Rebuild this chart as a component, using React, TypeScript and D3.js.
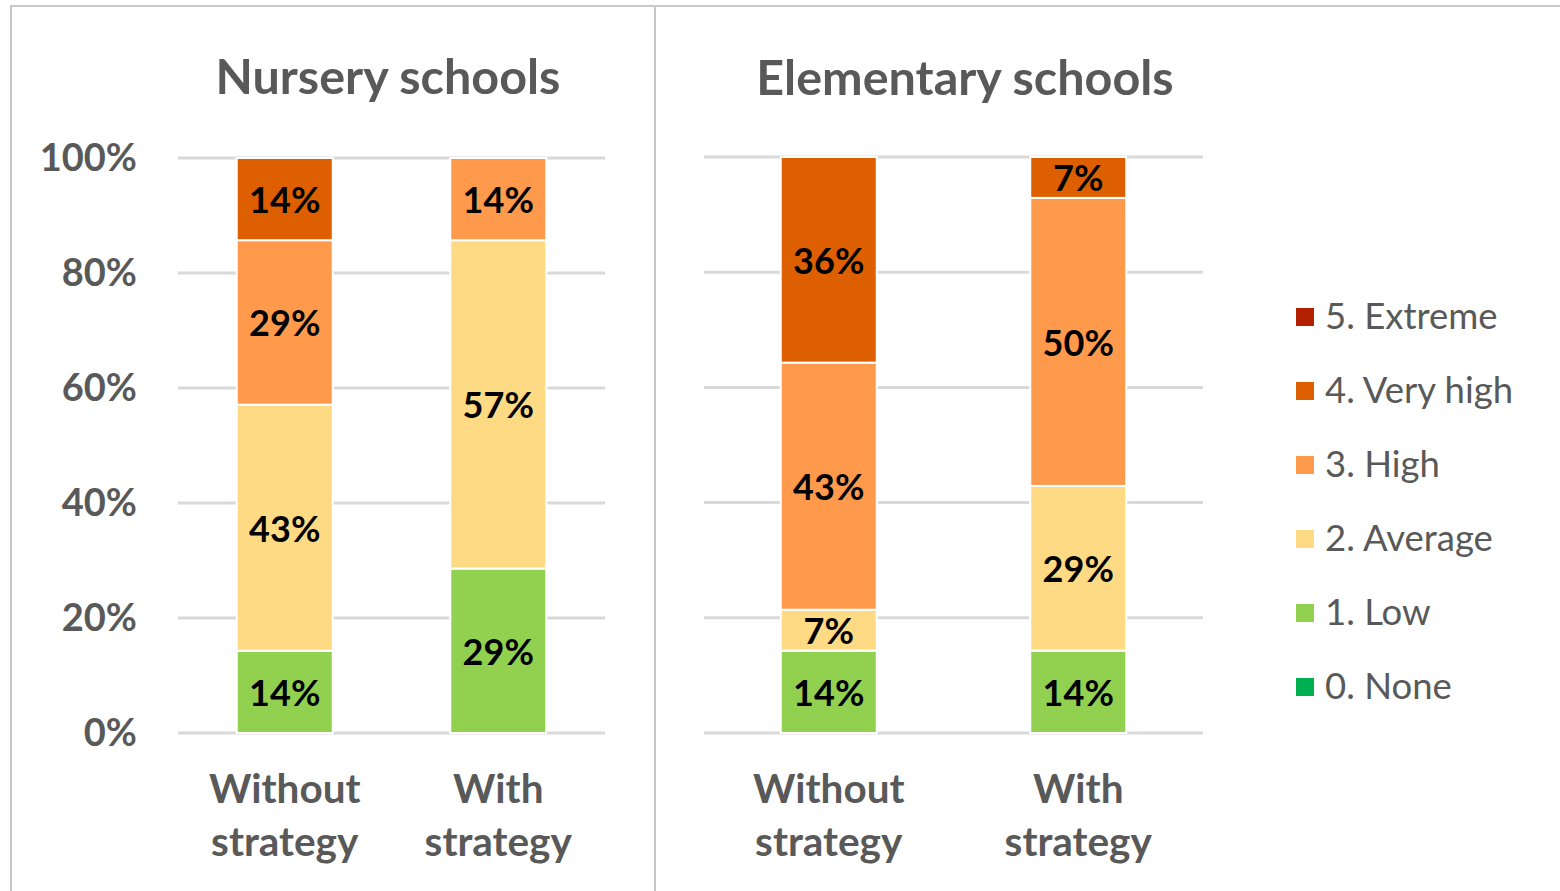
import React from 'react';
import * as d3 from 'd3';

const categories = ['Without strategy', 'With strategy'];
const levels = ['0. None', '1. Low', '2. Average', '3. High', '4. Very high', '5. Extreme'];
const levelColors = ['#00B050', '#92D050', '#FFDA84', '#FF9A4D', '#DE5F00', '#B22000'];
const panelTitles = ['Nursery schools', 'Elementary schools'];
// share (%) per level: [None, Low, Average, High, Very high, Extreme]
const nurseryWithout = [0, 14.3, 42.8, 28.6, 14.3, 0];
const nurseryWith = [0, 28.6, 57.1, 14.3, 0, 0];
const elementaryWithout = [0, 14.3, 7.1, 42.9, 35.7, 0];
const elementaryWith = [0, 14.3, 28.6, 50.0, 7.1, 0];
const yTicks = [0, 20, 40, 60, 80, 100];

const FONT = 'Lato, "Open Sans", sans-serif';
const GRAY = '#595959';

type Panel = {
  title: string;
  series: number[][];
  x0: number; x1: number; yTop: number; yBot: number;
  titleX: number; titleY: number;
  barW: number;
  showY: boolean;
};

const panels: Panel[] = [
  { title: panelTitles[0], series: [nurseryWithout, nurseryWith], x0: 178, x1: 605, yTop: 158, yBot: 733, titleX: 388, titleY: 94, barW: 96, showY: true },
  { title: panelTitles[1], series: [elementaryWithout, elementaryWith], x0: 704, x1: 1203, yTop: 157, yBot: 733, titleX: 965, titleY: 95, barW: 96, showY: false },
];

function PanelView({ p }: { p: Panel }) {
  const W = p.x1 - p.x0;
  const step = W / categories.length;
  const pad = 1 - p.barW / step;
  const x = d3.scaleBand<string>().domain(categories).range([p.x0, p.x1]).paddingInner(pad).paddingOuter(pad / 2);
  const y = d3.scaleLinear().domain([0, 100]).range([p.yBot, p.yTop]);
  const stackData = categories.map((c, i) => {
    const o: any = { cat: c };
    levels.forEach((l, j) => { o[l] = p.series[i][j]; });
    return o;
  });
  const stacked = d3.stack<any>().keys(levels)(stackData);
  return (
    <g>
      <text x={p.titleX} y={p.titleY} textAnchor="middle" fontFamily={FONT} fontWeight={700} fontSize={48.5} fill={GRAY}>{p.title}</text>
      {yTicks.map(t => (
        <g key={t}>
          <line x1={p.x0} x2={p.x1} y1={y(t)} y2={y(t)} stroke="#D9D9D9" strokeWidth={3} />
          {p.showY && (
            <text x={137} y={y(t) + 13} textAnchor="end" fontFamily={FONT} fontWeight={700} fontSize={38} fill={GRAY}>{t}%</text>
          )}
        </g>
      ))}
      {stacked.map((layer, li) => (
        <g key={levels[li]}>
          {layer.map((d, ci) => {
            const v = d[1] - d[0];
            if (v <= 0) return null;
            const bx = x(categories[ci]) as number;
            const yt = y(d[1]);
            const yb = y(d[0]);
            return (
              <g key={ci}>
                <rect x={bx} y={yt} width={x.bandwidth()} height={yb - yt} fill={levelColors[li]} stroke="#fff" strokeWidth={2} />
                <text x={bx + x.bandwidth() / 2} y={(yt + yb) / 2 + 14} textAnchor="middle" fontFamily={FONT} fontWeight={700} fontSize={36} fill="#000">{Math.round(v)}%</text>
              </g>
            );
          })}
        </g>
      ))}
      {categories.map(c => {
        const parts = c.split(' ');
        const cx = (x(c) as number) + x.bandwidth() / 2;
        return (
          <text key={c} textAnchor="middle" fontFamily={FONT} fontWeight={700} fontSize={40.5} fill={GRAY}>
            <tspan x={cx} y={803}>{parts[0]}</tspan>
            <tspan x={cx} y={856}>{parts[1]}</tspan>
          </text>
        );
      })}
    </g>
  );
}

export default function App() {
  const legendOrder = [...levels].reverse();
  const legendColors = [...levelColors].reverse();
  return (
    <svg width={1560} height={891} style={{ position: 'absolute', left: 0, top: 0, background: '#fff' }}>
      <rect x={0} y={0} width={1560} height={891} fill="#fff" />
      <line x1={10} x2={1560} y1={6} y2={6} stroke="#C8C8C8" strokeWidth={2} />
      <line x1={11} x2={11} y1={5} y2={891} stroke="#C8C8C8" strokeWidth={2} />
      <line x1={655} x2={655} y1={5} y2={891} stroke="#C8C8C8" strokeWidth={2} />
      {panels.map((p, i) => <PanelView key={i} p={p} />)}
      {legendOrder.map((l, i) => {
        const cy = 317 + i * 74;
        return (
          <g key={l}>
            <rect x={1296} y={cy - 9} width={18} height={18} fill={legendColors[i]} />
            <text x={1325} y={cy + 12} fontFamily={FONT} fontSize={36.5} fill={GRAY}>{l}</text>
          </g>
        );
      })}
    </svg>
  );
}
